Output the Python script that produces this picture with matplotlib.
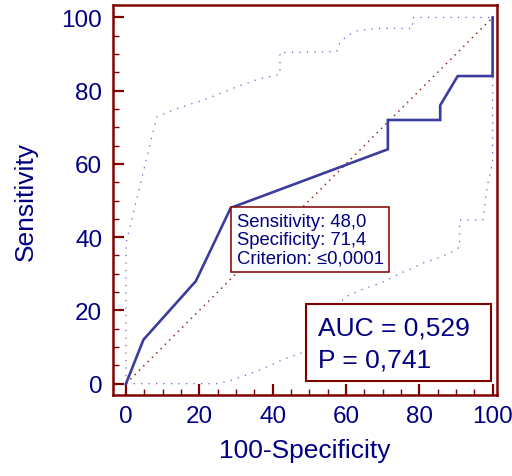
import matplotlib
matplotlib.use("Agg")
import matplotlib.pyplot as plt
from matplotlib.patches import Rectangle

plt.rcParams["font.family"] = ["Liberation Sans", "DejaVu Sans"]

# ROC curve (100-Specificity, Sensitivity)
roc_x = [0, 4.76, 19.05, 28.57, 71.43, 71.43, 85.71, 85.71, 90.48, 100, 100]
roc_y = [0, 12, 28, 48, 64, 72, 72, 76, 84, 84, 100]

# confidence bands
upper_x = [0, 0, 8.4, 13.9, 22.1, 31.1, 36.5, 42.0, 42.0, 57.5, 58.3, 60.5, 63.2, 68.7, 78.2, 78.2, 100]
upper_y = [0, 38.4, 72.9, 75.1, 77.8, 81.4, 83.3, 84.4, 90.4, 90.7, 93.2, 95.1, 96.4, 97.0, 97.0, 100, 100]

lower_x = [0, 24.8, 28.3, 33.8, 39.2, 42.8, 48.2, 59.7, 64.6, 69.2, 71.1, 74.7, 78.2, 80.9,
           84.2, 88.3, 91.0, 91.0, 97.3, 97.8, 98.1, 98.6, 99.5, 100, 100]
lower_y = [0, 0, 0.8, 2.7, 4.9, 6.6, 8.5, 23.6, 25.8, 27.4, 28.2, 30.1, 31.5, 32.9,
           34.0, 35.6, 37.3, 44.7, 44.7, 47.9, 50.7, 54.2, 58.1, 60.3, 100]

x_ticks = [0, 20, 40, 60, 80, 100]
y_ticks = [0, 20, 40, 60, 80, 100]

cut_point = (28.57, 48)
cut_text = "Sensitivity: 48,0\nSpecificity: 71,4\nCriterion: \u22640,0001"
auc_text = "AUC = 0,529"
p_text = "P = 0,741"

darkred = "#800000"
navy = "#000080"
line_blue = "#3c3ca0"

fig = plt.figure(figsize=(5.12, 4.77), dpi=100)
ax = fig.add_axes([0.2213, 0.1698, 0.9707 - 0.2213, 0.9874 - 0.1698])

# reference diagonal
ax.plot([0, 100], [0, 100], color="#a02828", linestyle=(0, (1, 3)), linewidth=1.1)
ax.plot(upper_x, upper_y, color="#6060cc", linestyle=(0, (1, 5)), linewidth=0.9)
ax.plot(lower_x, lower_y, color="#6060cc", linestyle=(0, (1, 5)), linewidth=0.9)
ax.plot(roc_x, roc_y, color=line_blue, linewidth=1.9, solid_joinstyle="miter")

ax.set_xlim(-3.46, 101.2)
ax.set_ylim(-3.1, 103.4)

for sp in ax.spines.values():
    sp.set_color(darkred)
    sp.set_linewidth(1.8)

ax.set_xticks(x_ticks)
ax.set_yticks(y_ticks)
ax.set_xticks(range(0, 101, 5), minor=True)
ax.set_yticks(range(0, 101, 5), minor=True)
ax.tick_params(which="major", direction="in", length=8, width=1.6, color=darkred,
               labelcolor=navy, labelsize=17.5, pad=7)
ax.tick_params(which="minor", direction="in", length=4.5, width=1.0, color=darkred)
ax.tick_params(axis="y", which="major", pad=8)

ax.set_xlabel("100-Specificity", fontsize=19, color=navy, labelpad=8)
ax.set_ylabel("Sensitivity", fontsize=19, color=navy, labelpad=17)

# cut-off point box
ax.annotate(cut_text, xy=cut_point, xytext=(4.3, -3.6), textcoords="offset points",
            ha="left", va="top", fontsize=13.3, color=navy, linespacing=1.1,
            bbox=dict(boxstyle="square,pad=0.3", fc="white", ec=darkred, lw=1.1))

# AUC box
ax.add_patch(Rectangle((49.0, 0.7), 50.7, 21.0, fill=True, fc="white",
                       ec=darkred, lw=1.5, zorder=5))
ax.text(52.3, 13.35, auc_text, fontsize=19, color=navy, va="baseline", zorder=6)
ax.text(52.3, 4.6, p_text, fontsize=19, color=navy, va="baseline", zorder=6)

fig.savefig("out.png", dpi=100)
